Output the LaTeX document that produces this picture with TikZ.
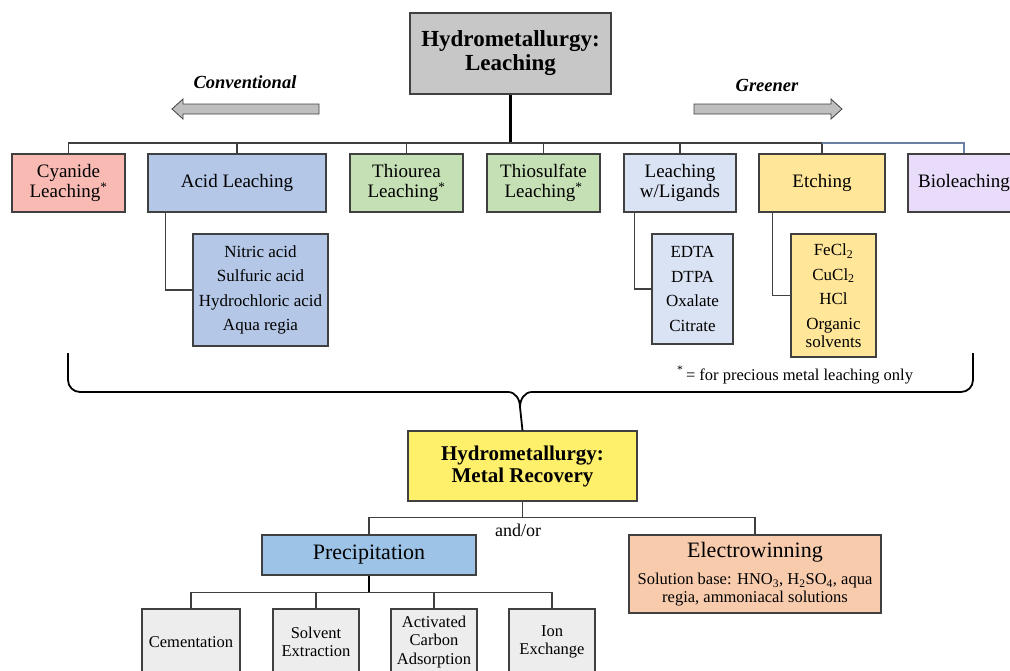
\documentclass[tikz,border=0pt]{standalone}
\usepackage{fontspec}
\setmainfont{Liberation Serif}
\definecolor{titleg}{HTML}{C7C7C7}
\definecolor{cyanp}{HTML}{F9BAB4}
\definecolor{acidb}{HTML}{B4C7E7}
\definecolor{greenc}{HTML}{C5E0B4}
\definecolor{ligb}{HTML}{DAE3F3}
\definecolor{etchy}{HTML}{FFE699}
\definecolor{biol}{HTML}{E8DCFA}
\definecolor{recy}{HTML}{FFF06C}
\definecolor{precb}{HTML}{9DC3E6}
\definecolor{elecp}{HTML}{F8CBAD}
\definecolor{botg}{HTML}{EDEDED}
\definecolor{arrowg}{HTML}{BFBFBF}
\definecolor{bordc}{HTML}{404040}
\definecolor{bluec}{HTML}{6B7FA3}
\begin{document}
\begin{tikzpicture}[x=1pt,y=-1pt,
  box/.style={draw=bordc, line width=1.1pt, inner sep=0pt, align=center, text=black},
  toprow/.style={box, minimum height=58pt, font=\fontsize{19}{20.5}\selectfont},
  subbox/.style={box, font=\fontsize{17}{24.5}\selectfont},
  botbox/.style={box, fill=botg, minimum width=86pt, minimum height=66pt, font=\fontsize{16.5}{18.5}\selectfont},
  conn/.style={draw=bordc, line width=1.3pt},
  thickconn/.style={draw=black, line width=2.4pt},
  bigarrow/.style={fill=arrowg, draw=bordc, line width=0.8pt},
  lbl/.style={inner sep=0pt, align=center, text=black}]
\useasboundingbox (0,0) rectangle (1010,670);
\clip (0,0) rectangle (1010,670);

% title
\node[box, fill=titleg, minimum width=201pt, minimum height=81pt, font=\fontsize{23}{24}\selectfont\bfseries] (title) at (510.5,53.5) {Hydrometallurgy:\\Leaching};

% direction arrows
\path[bigarrow] (172,109) -- (183,99) -- (183,104) -- (319,104) -- (319,114) -- (183,114) -- (183,119) -- cycle;
\node[lbl, font=\fontsize{18.5}{20}\selectfont\bfseries\itshape] (conv) at (245,82) {Conventional};
\path[bigarrow] (842,109) -- (831,99) -- (831,104) -- (694,104) -- (694,114) -- (831,114) -- (831,119) -- cycle;
\node[lbl, font=\fontsize{18.5}{20}\selectfont\bfseries\itshape] (green) at (767,85) {Greener};

% top row
\node[toprow, fill=cyanp, minimum width=113pt] (cyan) at (68.5,183) {Cyanide\\Leaching\textsuperscript{*}};
\node[toprow, fill=acidb, minimum width=178pt] (acid) at (237,183) {Acid Leaching};
\node[toprow, fill=greenc, minimum width=113pt] (thiou) at (406.5,183) {Thiourea\\Leaching\textsuperscript{*}};
\node[toprow, fill=greenc, minimum width=113pt] (thios) at (543.5,183) {Thiosulfate\\Leaching\textsuperscript{*}};
\node[toprow, fill=ligb, minimum width=112pt] (lig) at (680,183) {Leaching\\w/Ligands};
\node[toprow, fill=etchy, minimum width=126pt] (etch) at (822,183) {Etching};
\node[toprow, fill=biol, minimum width=112pt] (bio) at (964,183) {Bioleaching};

\coordinate (bus) at (510.5,143);
\draw[thickconn] (title.south) -- (bus);
\draw[conn] (cyan.north) -- (cyan.north |- bus) -- (etch.north |- bus) -- (etch.north);
\foreach \n in {acid,thiou,thios,lig} \draw[conn] (\n.north) -- (\n.north |- bus);
\draw[draw=bluec, line width=1.3pt] (etch.north |- bus) -| (bio.north);

% sub boxes
\node[subbox, fill=acidb, minimum width=135pt, minimum height=112pt] (acidsub) at (260.5,290) {Nitric acid\\Sulfuric acid\\Hydrochloric acid\\Aqua regia};
\node[subbox, fill=ligb, minimum width=81pt, minimum height=110pt] (ligsub) at (692.5,289) {EDTA\\DTPA\\Oxalate\\Citrate};
\node[subbox, fill=etchy, minimum width=85pt, minimum height=123pt] (etchsub) at (833.5,295.5) {FeCl\textsubscript{2}\\CuCl\textsubscript{2}\\HCl\\Organic\\[-6.5pt]solvents};

\draw[conn] (acid.south west) ++(18,0) |- (acidsub.west);
\draw[conn] (lig.south west) ++(11,0) |- (ligsub.west);
\draw[conn] (etch.south west) ++(14,0) |- (etchsub.west);

\node[lbl, font=\fontsize{16.5}{18}\selectfont] (note) at (795,375) {\textsuperscript{*}\,= for precious metal leaching only};

% recovery
\node[box, fill=recy, minimum width=229pt, minimum height=70pt, font=\fontsize{21}{22}\selectfont\bfseries] (recov) at (522.5,466) {Hydrometallurgy:\\Metal Recovery};

% brace
\draw[black, line width=1.8pt] (68,353) -- (68,380) to[out=-90,in=180] (80,392) -- (508,392) to[out=0,in=90] (520,407) -- (recov.north);
\draw[black, line width=1.8pt] (973,353) -- (973,380) to[out=-90,in=0] (961,392) -- (532,392) to[out=180,in=90] (520,407);

% methods
\node[box, fill=precb, minimum width=214pt, minimum height=40pt, font=\fontsize{22}{23}\selectfont] (prec) at (369,555) {Precipitation};
\node[box, fill=elecp, minimum width=252pt, minimum height=78pt] (elec) at (755,574) {};
\node[lbl, font=\fontsize{22}{23}\selectfont] (electitle) at (755,552) {Electrowinning};
\node[lbl, font=\fontsize{16.5}{18}\selectfont] (elecsub) at (755,589.5) {Solution base: HNO\textsubscript{3}, H\textsubscript{2}SO\textsubscript{4}, aqua\\regia, ammoniacal solutions};

\draw[conn] (recov.south) -- ++(0,16) coordinate (rbus);
\draw[conn] (prec.north) |- (rbus) -| (elec.north);
\node[lbl, font=\fontsize{18}{19}\selectfont] (andor) at (518,530) {and/or};

% bottom boxes
\node[botbox, minimum width=98pt] (cem) at (191,642) {Cementation};
\node[botbox] (solv) at (316,642) {Solvent\\Extraction};
\node[botbox] (act) at (434,642) {Activated\\Carbon\\Adsorption};
\node[botbox] (ion) at (552,642) {Ion\\Exchange};

\draw[draw=black, line width=2pt] (prec.south) -- ++(0,17) coordinate (pbus);
\draw[conn] (cem.north) |- (pbus) -| (ion.north);
\draw[conn] (solv.north) -- (solv.north |- pbus);
\draw[conn] (act.north) -- (act.north |- pbus);
\end{tikzpicture}
\end{document}
